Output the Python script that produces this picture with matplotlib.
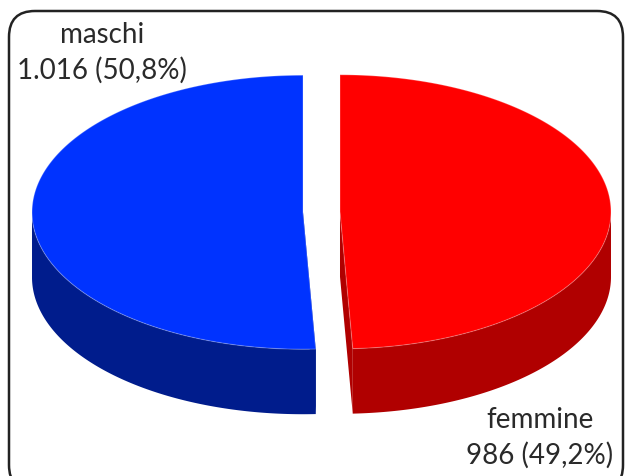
import numpy as np
import matplotlib
matplotlib.use("Agg")
import matplotlib.pyplot as plt
from matplotlib.patches import Polygon, FancyBboxPatch

# ---- data ----
categories = ["maschi", "femmine"]
values = [1016, 986]
value_labels = ["1.016 (50,8%)", "986 (49,2%)"]
top_colors = ["#0033ff", "#ff0000"]
side_colors = ["#001c8c", "#b00000"]

W, H = 626, 477
fig = plt.figure(figsize=(W / 100, H / 100), dpi=100)
ax = fig.add_axes([0, 0, 1, 1])
ax.set_xlim(0, W)
ax.set_ylim(H, 0)
ax.axis("off")

# rounded frame
frame = FancyBboxPatch((9, 12), 614, 480,
                       boxstyle="round,pad=0,rounding_size=26",
                       facecolor="white", edgecolor="#222222", lw=1.8, zorder=0)
ax.add_patch(frame)

# pie geometry (pixel space)
cx, cy = 321.5, 213.0
rx, ry = 271.0, 137.0
depth = 65.0
explode = 18.5

total = float(sum(values))
fracs = [v / total for v in values]
a_f_end = 90.0
a_f_start = 90.0 - 360.0 * fracs[1]
slices = {
    1: (a_f_start, a_f_end),
    0: (a_f_end, a_f_start + 360.0),
}


def pt(c, ang, dz=0.0):
    t = np.deg2rad(ang)
    return (c[0] + rx * np.cos(t), c[1] - ry * np.sin(t) + dz)


for i in [0, 1]:
    a0, a1 = slices[i]
    mid = np.deg2rad((a0 + a1) / 2)
    c = (cx + explode * np.cos(mid), cy - explode * np.sin(mid) * ry / rx)
    angs = np.linspace(a0, a1, 300)
    for a in (a0, a1):
        p = pt(c, a)
        face = [c, p, (p[0], p[1] + depth), (c[0], c[1] + depth)]
        ax.add_patch(Polygon(face, closed=True, facecolor=side_colors[i],
                             edgecolor="none", zorder=1))
    wall_angs = [a for a in angs if 180 <= (a % 360) <= 360]
    if wall_angs:
        wa = np.array(wall_angs)
        topp = [pt(c, a) for a in wa]
        botp = [pt(c, a, depth) for a in wa[::-1]]
        ax.add_patch(Polygon(topp + botp, closed=True, facecolor=side_colors[i],
                             edgecolor="none", zorder=2))
    toppts = [c] + [pt(c, a) for a in angs]
    ax.add_patch(Polygon(toppts, closed=True, facecolor=top_colors[i],
                         edgecolor=(1, 1, 1, 0.25), lw=0.8, zorder=3))

font = dict(family=["Lato", "DejaVu Sans"], fontsize=20, weight="normal",
            color="#2a2a2a")
ax.text(102, 35, categories[0], ha="center", va="center", **font)
ax.text(101.5, 70, value_labels[0], ha="center", va="center", **font)
ax.text(540, 420, categories[1], ha="center", va="center", **font)
ax.text(540, 455, value_labels[1], ha="center", va="center", **font)

fig.savefig("out.png", dpi=100)
